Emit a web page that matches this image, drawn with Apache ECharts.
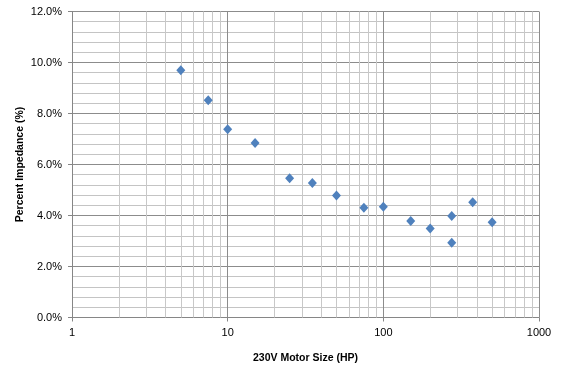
<!DOCTYPE html>
<html><head><meta charset="utf-8">
<script src="https://cdn.jsdelivr.net/npm/echarts@6/dist/echarts.min.js"></script>
<style>html,body{margin:0;padding:0;background:#fff}#c{width:564px;height:373px}</style>
</head><body><div id="c"></div>
<script>
// Data
const motorHP = [5, 7.5, 10, 15, 25, 35, 50, 75, 100, 150, 200, 275, 275, 375, 500];
const impedancePct = [9.70, 8.52, 7.38, 6.84, 5.46, 5.27, 4.78, 4.30, 4.34, 3.78, 3.49, 3.98, 2.93, 4.52, 3.74];
// Minor vertical grid positions (log axis)
const xMinorTicks = [2,3,4,5,6,7,8,9,20,30,40,50,60,70,80,90,200,300,400,500,600,700,800,900];
const xTitle = '230V Motor Size (HP)';
const yTitle = 'Percent Impedance (%)';

const FONT = '"Liberation Sans", Arial, sans-serif';
const chart = echarts.init(document.getElementById('c'), null, {renderer: 'canvas'});
chart.setOption({
  animation: false,
  backgroundColor: '#fff',
  grid: {left: 72, right: 25, top: 11.5, bottom: 55.5, containLabel: false},
  xAxis: {
    type: 'log', logBase: 10, min: 1, max: 1000, splitNumber: 3,
    name: xTitle, nameLocation: 'middle', nameGap: 35, nameMoveOverlap: false,
    nameTextStyle: {fontFamily: FONT, fontSize: 10.5, fontWeight: 'bold', color: '#000'},
    axisLine: {show: true, onZero: false, lineStyle: {color: '#868686', width: 1}},
    axisTick: {show: true, length: 4, lineStyle: {color: '#868686'}},
    axisLabel: {fontFamily: FONT, fontSize: 11, color: '#000', margin: 10,
      formatter: v => String(Math.round(v))},
    splitLine: {show: true, lineStyle: {color: '#8c8c8c', width: 1}},
    minorTick: {show: false}, minorSplitLine: {show: false}
  },
  yAxis: {
    type: 'value', min: 0, max: 12, interval: 2,
    name: yTitle, nameLocation: 'middle', nameGap: 46, nameMoveOverlap: false,
    nameTextStyle: {fontFamily: FONT, fontSize: 10.5, fontWeight: 'bold', color: '#000'},
    axisLine: {show: true, lineStyle: {color: '#868686', width: 1}},
    axisTick: {show: true, length: 4, lineStyle: {color: '#868686'}},
    axisLabel: {fontFamily: FONT, fontSize: 11, color: '#000', margin: 10,
      formatter: v => v.toFixed(1) + '%'},
    splitLine: {show: true, lineStyle: {color: '#8c8c8c', width: 1}},
    minorTick: {show: false, splitNumber: 5},
    minorSplitLine: {show: true, lineStyle: {color: '#c4c4c4', width: 1}}
  },
  series: [
    {
      type: 'scatter', data: [], z: 1, silent: true,
      markLine: {
        silent: true, symbol: ['none', 'none'], animation: false,
        label: {show: false},
        lineStyle: {color: '#c8c8c8', width: 1, type: 'solid'},
        emphasis: {disabled: true},
        data: xMinorTicks.map(v => ({xAxis: v}))
      }
    },
    {
      type: 'scatter', z: 5,
      symbol: 'diamond', symbolSize: [9, 10],
      itemStyle: {color: '#4F81BD', opacity: 1},
      data: motorHP.map((x, i) => [x, impedancePct[i]])
    }
  ]
});
</script></body></html>
